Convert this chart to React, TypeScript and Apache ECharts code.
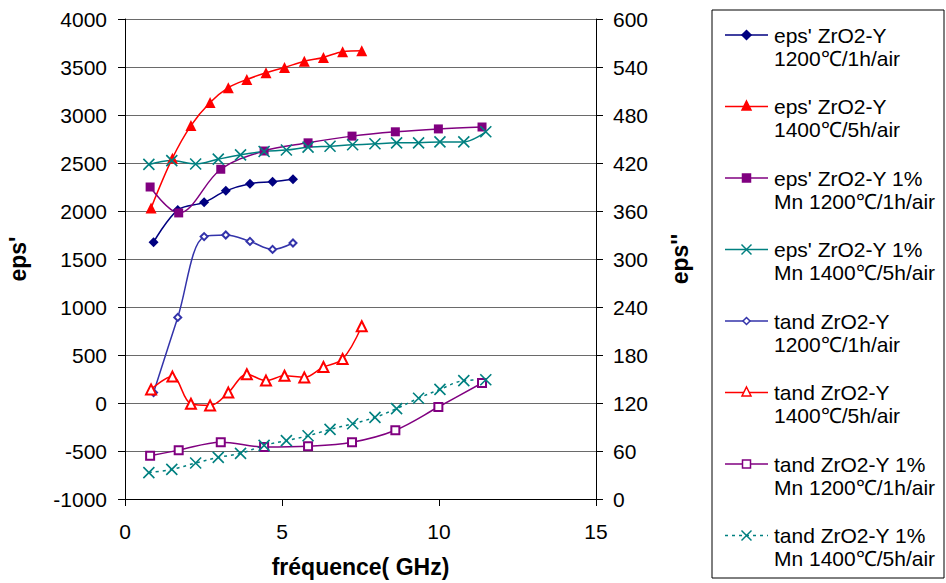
import React, { useEffect, useRef } from "react";
import * as echarts from "echarts";

// ---- data ----
const freqA = [0.91, 1.68, 2.52, 3.21, 3.98, 4.7, 5.35];
const epsA = [1675, 2010, 2090, 2210, 2285, 2305, 2330];
const tandA = [133, 227, 328, 330, 322, 312, 320];

const freqB = [0.83, 1.51, 2.1, 2.71, 3.29, 3.88, 4.49, 5.08, 5.71, 6.32, 6.93, 7.54];
const epsB = [2030, 2550, 2890, 3130, 3285, 3370, 3440, 3495, 3560, 3600, 3660, 3670];
const tandB = [137, 153, 119, 117, 133, 156, 148, 154, 152, 165, 175, 216];

const freqC = [0.8, 1.71, 3.05, 4.43, 5.83, 7.23, 8.61, 9.98, 11.37];
const epsC = [2250, 1980, 2435, 2625, 2710, 2780, 2825, 2855, 2875];
const tandC = [54, 61, 71, 65, 66, 71, 86, 115, 145];

const freqD = [0.76, 1.49, 2.25, 2.97, 3.68, 4.43, 5.14, 5.83, 6.53, 7.25, 7.96, 8.65, 9.35, 10.03, 10.79, 11.49];
const epsD = [2485, 2525, 2490, 2540, 2585, 2620, 2635, 2665, 2675, 2690, 2700, 2710, 2710, 2720, 2720, 2825];
const tandD = [33, 37, 45, 52, 57, 67, 73, 79, 87, 94, 102, 113, 126, 137, 148, 149];

const seriesNames = [
  "eps' ZrO2-Y\n1200℃/1h/air",
  "eps' ZrO2-Y\n1400℃/5h/air",
  "eps' ZrO2-Y 1%\nMn 1200℃/1h/air",
  "eps' ZrO2-Y 1%\nMn 1400℃/5h/air",
  "tand ZrO2-Y\n1200℃/1h/air",
  "tand ZrO2-Y\n1400℃/5h/air",
  "tand ZrO2-Y 1%\nMn 1200℃/1h/air",
  "tand ZrO2-Y 1%\nMn 1400℃/5h/air",
];

const xTitle = "fréquence( GHz)";
const yLeftTitle = "eps'";
const yRightTitle = "eps''";

const FONT = "'Liberation Sans', Arial, Helvetica, sans-serif";
const X_PATH = "path://M0 0L10 10M10 0L0 10";

type Kind = "diamond" | "triangle" | "rect" | "x";
const styles: { color: string; kind: Kind; hollow: boolean; size: number; dashed?: boolean }[] = [
  { color: "#000080", kind: "diamond", hollow: false, size: 10 },
  { color: "#FF0000", kind: "triangle", hollow: false, size: 11 },
  { color: "#800080", kind: "rect", hollow: false, size: 9 },
  { color: "#008080", kind: "x", hollow: false, size: 11 },
  { color: "#3333AA", kind: "diamond", hollow: true, size: 7 },
  { color: "#FF0000", kind: "triangle", hollow: true, size: 10 },
  { color: "#800080", kind: "rect", hollow: true, size: 8 },
  { color: "#008080", kind: "x", hollow: false, size: 11, dashed: true },
];

const xs = [freqA, freqB, freqC, freqD, freqA, freqB, freqC, freqD];
const ys = [epsA, epsB, epsC, epsD, tandA, tandB, tandC, tandD];

function symbolFor(kind: Kind, hollow: boolean) {
  if (kind === "x") return X_PATH;
  const base = kind === "diamond" ? "diamond" : kind === "triangle" ? "triangle" : "rect";
  return hollow ? "empty" + base.charAt(0).toUpperCase() + base.slice(1) : base;
}

function legendGraphics() {
  const els: any[] = [];
  els.push({
    type: "rect",
    shape: { x: 712, y: 10, width: 232, height: 568 },
    style: { fill: "#fff", stroke: "#000", lineWidth: 1 },
    z: 1,
  });
  seriesNames.forEach((name, i) => {
    const st = styles[i];
    const cy = 35 + 71.5 * i;
    const cx = 746.5;
    els.push({
      type: "line",
      shape: { x1: 725, y1: cy, x2: 768, y2: cy },
      style: { stroke: st.color, lineWidth: 1.5, lineDash: st.dashed ? [3, 4] : null },
      z: 2,
    });
    const fill = st.hollow ? "#fff" : st.color;
    const s = 4.5;
    let m: any;
    if (st.kind === "diamond") {
      const r = st.hollow ? 3.5 : 4.5;
      m = { type: "polygon", shape: { points: [[cx, cy - r], [cx + r, cy], [cx, cy + r], [cx - r, cy]] } };
    } else if (st.kind === "triangle") {
      m = { type: "polygon", shape: { points: [[cx, cy - s - 1], [cx + s, cy + s - 1], [cx - s, cy + s - 1]] } };
    } else if (st.kind === "rect") {
      m = { type: "rect", shape: { x: cx - 4, y: cy - 4, width: 8, height: 8 } };
    } else {
      els.push({ type: "line", shape: { x1: cx - 5, y1: cy - 5, x2: cx + 5, y2: cy + 5 }, style: { stroke: st.color, lineWidth: 1.5 }, z: 3 });
      els.push({ type: "line", shape: { x1: cx + 5, y1: cy - 5, x2: cx - 5, y2: cy + 5 }, style: { stroke: st.color, lineWidth: 1.5 }, z: 3 });
    }
    if (m) {
      m.style = { fill, stroke: st.color, lineWidth: 1.5 };
      m.z = 3;
      els.push(m);
    }
    els.push({
      type: "text",
      x: 774,
      y: cy - 11.5,
      style: {
        text: name,
        font: `21px ${FONT}`,
        fill: "#000",
        lineHeight: 23,
        verticalAlign: "top",
        align: "left",
      },
      z: 3,
    });
  });
  return els;
}

export default function App() {
  const ref = useRef<HTMLDivElement>(null);
  useEffect(() => {
    if (!ref.current) return;
    const chart = echarts.init(ref.current, undefined, { renderer: "svg" });
    const axisLabel = { fontSize: 21, color: "#000", fontFamily: FONT, formatter: (v: number) => String(v) };
    const nameStyle = { fontSize: 23, fontWeight: "bold" as const, color: "#000", fontFamily: FONT };
    const series = seriesNames.map((name, i) => {
      const st = styles[i];
      return {
        type: "line",
        name,
        yAxisIndex: i < 4 ? 0 : 1,
        data: xs[i].map((x, j) => [x, ys[i][j]]),
        smooth: 0.35,
        symbol: symbolFor(st.kind, st.hollow),
        symbolSize: st.size,
        showAllSymbol: true,
        lineStyle: { color: st.color, width: 1.5, type: st.dashed ? [3, 4] : "solid" },
        itemStyle: {
          color: st.color,
          borderColor: st.color,
          borderWidth: st.kind === "x" ? 1.6 : st.hollow ? 1.5 : 0,
        },
        emphasis: { disabled: true },
        z: 3,
      };
    });
    chart.setOption({
      animation: false,
      backgroundColor: "#fff",
      textStyle: { fontFamily: FONT },
      grid: { left: 125, right: 350, top: 19, bottom: 84 },
      xAxis: {
        type: "value",
        min: 0,
        max: 15,
        interval: 5,
        name: xTitle,
        nameLocation: "middle",
        nameGap: 56,
        nameTextStyle: nameStyle,
        axisLine: { show: true, onZero: false, lineStyle: { color: "#000", width: 1 } },
        axisTick: { show: true, length: 7, lineStyle: { color: "#000" } },
        axisLabel: { ...axisLabel, margin: 22 },
        splitLine: { show: false },
      },
      yAxis: [
        {
          type: "value",
          min: -1000,
          max: 4000,
          interval: 500,
          name: yLeftTitle,
          nameLocation: "middle",
          nameGap: 96,
          nameTextStyle: nameStyle,
          axisLine: { show: true, lineStyle: { color: "#000", width: 1 } },
          axisTick: { show: true, length: 7, lineStyle: { color: "#000" } },
          axisLabel: { ...axisLabel, margin: 18 },
          splitLine: { show: true, lineStyle: { color: "#6a6a6a", width: 1.2 } },
        },
        {
          type: "value",
          min: 0,
          max: 600,
          interval: 60,
          position: "right",
          name: yRightTitle,
          nameLocation: "middle",
          nameGap: 72,
          nameRotate: 90,
          nameTextStyle: nameStyle,
          axisLine: { show: true, lineStyle: { color: "#000", width: 1 } },
          axisTick: { show: true, length: 7, lineStyle: { color: "#000" } },
          axisLabel: { ...axisLabel, margin: 17 },
          splitLine: { show: false },
        },
      ],
      series,
      graphic: legendGraphics(),
    });
    return () => chart.dispose();
  }, []);
  return <div ref={ref} style={{ width: 946, height: 583, position: "absolute", left: 0, top: 0 }} />;
}
